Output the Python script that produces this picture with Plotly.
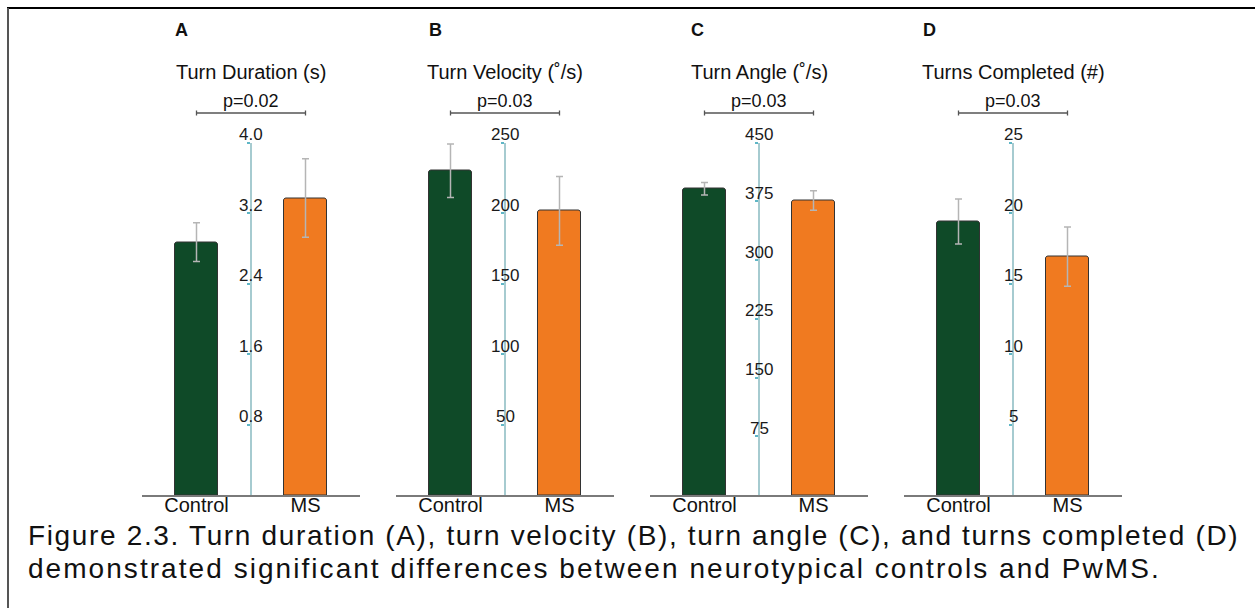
import plotly.graph_objects as go

# ---------------- data ----------------
categories = ["Control", "MS"]
panel_letters = ["A", "B", "C", "D"]
panel_titles = ["Turn Duration (s)", "Turn Velocity (˚/s)", "Turn Angle (˚/s)", "Turns Completed (#)"]
p_values = ["p=0.02", "p=0.03", "p=0.03", "p=0.03"]

duration_mean = [2.87, 3.37]
duration_err = [0.22, 0.445]
velocity_mean = [230, 201.5]
velocity_err = [19, 24.4]
angle_mean = [391, 376]
angle_err = [8, 12.4]
turns_mean = [19.4, 16.9]
turns_err = [1.6, 2.1]

duration_ticks = [0.8, 1.6, 2.4, 3.2, 4.0]
duration_ticklabels = ["0.8", "1.6", "2.4", "3.2", "4.0"]
velocity_ticks = [50, 100, 150, 200, 250]
velocity_ticklabels = ["50", "100", "150", "200", "250"]
angle_ticks = [75, 150, 225, 300, 375, 450]
angle_ticklabels = ["75", "150", "225", "300", "375", "450"]
turns_ticks = [5, 10, 15, 20, 25]
turns_ticklabels = ["5", "10", "15", "20", "25"]

y_max = [4.0, 250, 450, 25]

caption_lines = [
    "Figure 2.3. Turn duration (A), turn velocity (B), turn angle (C), and turns completed (D)",
    "demonstrated significant differences between neurotypical controls and PwMS.",
]

# ---------------- layout helpers ----------------
W, H = 1255, 608
bar_colors = ["#0f4a28", "#f07a20"]
font_main = "Liberation Sans, Arial, sans-serif"
caption_letter_spacing = [1.65, 2.05]

def px(x):
    return x / W

def py(y):
    return 1 - y / H

means = [duration_mean, velocity_mean, angle_mean, turns_mean]
errs = [duration_err, velocity_err, angle_err, turns_err]
ticks = [duration_ticks, velocity_ticks, angle_ticks, turns_ticks]
ticklabels = [duration_ticklabels, velocity_ticklabels, angle_ticklabels, turns_ticklabels]

axis_centers = [251, 505, 759, 1013]   # pixel x of each panel's value axis
half_w = 109
letter_x = [181.5, 435, 697, 929]
y_dom = [py(495), py(142.5)]

fig = go.Figure()
annotations = []
shapes = []

for i in range(4):
    n = "" if i == 0 else str(i + 1)
    xa, ya = "x" + n, "y" + n
    fig.add_trace(go.Bar(
        x=[0, 1], y=means[i],
        xaxis=xa, yaxis=ya,
        width=0.4,
        marker=dict(color=bar_colors, line=dict(color="#333333", width=1), cornerradius=3),
        error_y=dict(type="data", array=errs[i], color="#b5b5b5", thickness=1.5, width=3.5),
        showlegend=False, hoverinfo="skip",
    ))
    c = axis_centers[i]
    dom = [px(c - half_w), px(c + half_w)]
    fig.layout["xaxis" + n] = dict(
        domain=dom, anchor=ya, range=[-0.5, 1.5],
        tickvals=[0, 1], ticktext=categories, ticks="",
        tickfont=dict(family=font_main, size=20, color="#111111"),
        ticklabelstandoff=-9,
        showline=True, linecolor="#7a7a7a", linewidth=1.5,
        showgrid=False, zeroline=False, fixedrange=True,
    )
    fig.layout["yaxis" + n] = dict(
        domain=y_dom, anchor="free", position=px(c), range=[0, y_max[i]],
        tickvals=ticks[i], ticks="outside", ticklen=3, tickwidth=1.5, tickcolor="#5fb6c6",
        showticklabels=False, showline=True, linecolor="#a6cbd0", linewidth=2,
        showgrid=False, zeroline=False, fixedrange=True,
    )
    # tick labels centred over the value axis
    for v, t in zip(ticks[i], ticklabels[i]):
        annotations.append(dict(
            x=0.5, y=v, xref=xa, yref=ya, text=t, showarrow=False,
            xanchor="center", yanchor="middle", yshift=8,
            font=dict(family=font_main, size=17, color="#1a1a1a"),
        ))
    # panel letter
    annotations.append(dict(
        x=px(letter_x[i]), y=py(30), xref="paper", yref="paper", text="<b>%s</b>" % panel_letters[i],
        showarrow=False, xanchor="center", yanchor="middle",
        font=dict(family=font_main, size=18, color="#111111"),
    ))
    # panel title
    annotations.append(dict(
        x=px(c), y=py(72), xref="paper", yref="paper", text=panel_titles[i],
        showarrow=False, xanchor="center", yanchor="middle",
        font=dict(family=font_main, size=20, color="#111111"),
    ))
    # p-value
    annotations.append(dict(
        x=px(c), y=py(100.5), xref="paper", yref="paper", text=p_values[i],
        showarrow=False, xanchor="center", yanchor="middle",
        font=dict(family=font_main, size=18, color="#111111"),
    ))
    # significance bracket
    shapes.append(dict(type="line", xref=xa, yref="paper", x0=0, x1=1, y0=py(113), y1=py(113),
                       line=dict(color="#555555", width=1.3)))
    for xe in (0, 1):
        shapes.append(dict(type="line", xref=xa, yref="paper", x0=xe, x1=xe, y0=py(110.5), y1=py(115.5),
                           line=dict(color="#555555", width=1.3)))

# caption
for k, line in enumerate(caption_lines):
    annotations.append(dict(
        x=px(26), y=py(535 + 33 * k), xref="paper", yref="paper",
        text='<span style="letter-spacing:%.2fpx">%s</span>' % (caption_letter_spacing[k], line),
        showarrow=False, xanchor="left", yanchor="middle",
        font=dict(family=font_main, size=28, color="#111111"),
    ))

# frame lines
shapes.append(dict(type="line", xref="paper", yref="paper", x0=px(7), x1=1, y0=py(8), y1=py(8),
                   line=dict(color="#000000", width=2)))
shapes.append(dict(type="line", xref="paper", yref="paper", x0=px(8), x1=px(8), y0=py(8), y1=0,
                   line=dict(color="#555555", width=2)))

fig.update_layout(
    width=W, height=H, margin=dict(l=0, r=0, t=0, b=0),
    paper_bgcolor="white", plot_bgcolor="white",
    annotations=annotations, shapes=shapes,
    bargap=0, showlegend=False,
)

fig.write_html("out.html", include_plotlyjs=True, config={"displayModeBar": False})
